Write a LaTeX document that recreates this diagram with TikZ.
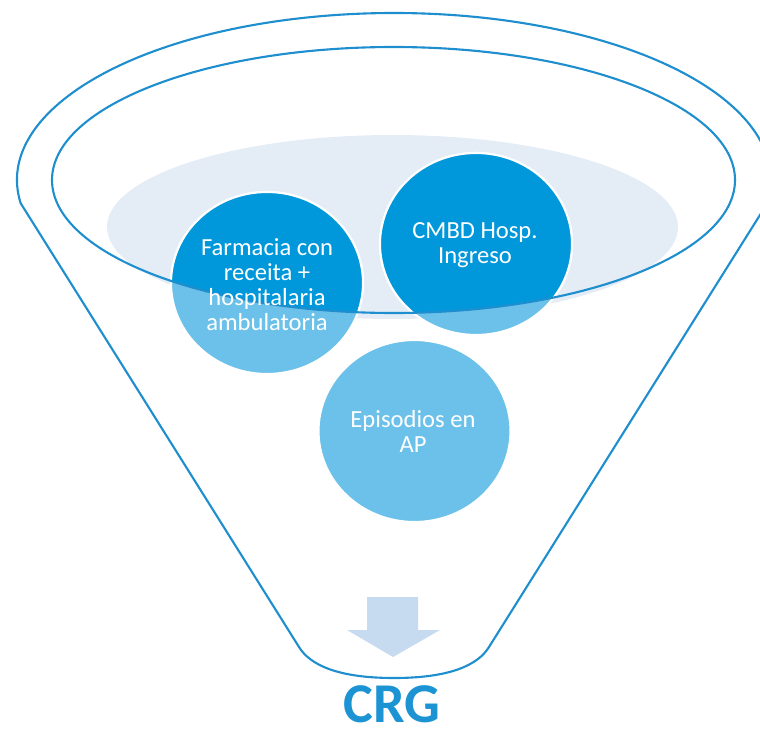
\documentclass[tikz,border=0pt]{standalone}
\usepackage{fontspec}
\setmainfont{Carlito}
\definecolor{funnelc}{RGB}{30,142,206}
\definecolor{darkc}{RGB}{0,152,218}
\definecolor{lightc}{RGB}{107,193,233}
\definecolor{palec}{RGB}{228,236,246}
\definecolor{arrowc}{RGB}{198,218,240}
\definecolor{crgc}{RGB}{28,148,212}
\begin{document}
\begin{tikzpicture}[x=0.02cm,y=0.02cm,
  outline/.style={draw=funnelc, line width=1.2pt},
  lbl/.style={text=white, font=\fontsize{14}{14.2}\selectfont, align=center, inner sep=0pt},
  bubble/.style={draw=white, line width=1.2pt}]
\useasboundingbox (0,0) rectangle (760,728);
% pale ellipse
\fill[palec] (392.5,501) ellipse[x radius=285.5, y radius=92];
% circles, light
\foreach \cx/\cy in {267/445, 476/484, 414.5/297}
  \filldraw[bubble, fill=lightc] (\cx,\cy) ellipse[x radius=96, y radius=91];
% circles, dark inside the inner ellipse
\begin{scope}
  \clip (393.5,548) ellipse[x radius=341.5, y radius=133];
  \foreach \cx/\cy in {267/445, 476/484}
    \filldraw[bubble, fill=darkc] (\cx,\cy) ellipse[x radius=96, y radius=91];
\end{scope}
% inner ellipse
\draw[outline] (393.5,548) ellipse[x radius=341.5, y radius=133];
% funnel outline
\draw[outline] (394,548) ++(188:377 and 167)
  arc[start angle=188, end angle=-8, x radius=377, y radius=167]
  -- (489,81) .. controls (478,63) and (450,50) .. (394,50)
  .. controls (338,50) and (310,63) .. (299,81) -- cycle;
% arrow
\fill[arrowc] (367,131) -- (418,131) -- (418,98) -- (440,98) -- (393,71)
  -- (347,98) -- (367,98) -- cycle;
% texts
\node[lbl] (farm) at (267,443.5) {Farmacia con\\receita +\\hospitalaria\\ambulatoria};
\node[lbl] (cmbd) at (475,482.5) {CMBD Hosp.\\Ingreso};
\node[lbl] (epis) at (413,297) {Episodios en\\AP};
\node[anchor=base, inner sep=0pt, text=crgc, font=\bfseries\fontsize{32}{36}\selectfont] (crg) at (392,5.5) {CRG};
\end{tikzpicture}
\end{document}
